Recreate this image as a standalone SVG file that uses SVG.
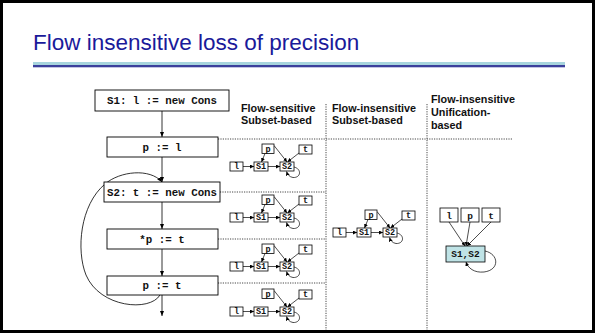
<svg xmlns="http://www.w3.org/2000/svg" width="595" height="333" viewBox="0 0 595 333">
<defs>
<style>
.frame{fill:#fff;stroke:#000;stroke-width:3}
.title{font-family:"Liberation Sans",Arial,sans-serif;font-size:22.5px;fill:#1a1a9a}
.hd{font-family:"Liberation Sans",Arial,sans-serif;font-size:10.8px;font-weight:bold;fill:#111}
.stm rect{fill:#fff;stroke:#000;stroke-width:0.9}
.stm text{font-family:"Liberation Mono","Courier New",monospace;font-size:10.8px;font-weight:bold;fill:#111;text-anchor:middle}
.n rect{fill:#fff;stroke:#000;stroke-width:0.8}
.n text{font-family:"Liberation Mono","Courier New",monospace;font-size:8.5px;font-weight:bold;fill:#111;text-anchor:middle}
.u rect{fill:#fff;stroke:#000;stroke-width:0.8}
.u text{font-family:"Liberation Mono","Courier New",monospace;font-size:9.5px;font-weight:bold;fill:#111;text-anchor:middle}
.dot{stroke:#333;stroke-width:0.9;stroke-dasharray:1.2 1.2;fill:none}
.ea{stroke:#000;stroke-width:0.7;fill:none;marker-end:url(#ah)}
.eb{stroke:#000;stroke-width:0.8;fill:none;marker-end:url(#ab)}
</style>
<marker id="ah" markerUnits="userSpaceOnUse" markerWidth="5" markerHeight="4" refX="4" refY="2" orient="auto"><path d="M0,0 L4,2 L0,4 z" fill="#000"/></marker>
<marker id="ab" markerUnits="userSpaceOnUse" markerWidth="6" markerHeight="5" refX="5" refY="2.5" orient="auto"><path d="M0,0.5 L5,2.5 L0,4.5 z" fill="#000"/></marker>
<g id="mini">
<line class="ea" x1="243" y1="4.5" x2="254" y2="4.5"/>
<line class="ea" x1="268" y1="4.5" x2="280" y2="4.5"/>
<line class="ea" x1="274" y1="-16.5" x2="287" y2="0"/>
<line class="ea" x1="299" y1="-9" x2="287.5" y2="0"/>
<path class="ea" d="M294,5 C302,7 301,16 293,15.5 C289.5,15 287.5,12.5 286.5,9.5"/>
<g class="n"><rect x="230" y="0" width="13" height="9"/><text x="236.5" y="7.3">l</text></g>
<g class="n"><rect x="254" y="0" width="14" height="9"/><text x="261" y="7.3">S1</text></g>
<g class="n"><rect x="280" y="0" width="14" height="9"/><text x="287" y="7.3">S2</text></g>
<g class="n"><rect x="262" y="-18" width="12" height="9.5"/><text x="268" y="-10.3">p</text></g>
<g class="n"><rect x="299" y="-17" width="13" height="9"/><text x="305.5" y="-9.8">t</text></g>
</g>
<line id="pS1" class="ea" x1="265" y1="-8.5" x2="261.5" y2="0"/>
</defs>

<rect class="frame" x="1.5" y="1.5" width="592" height="330"/>

<g id="title">
<text class="title" x="33" y="50">Flow insensitive loss of precision</text>
<rect x="33" y="62" width="532" height="3" fill="#a7d4dd"/>
<rect x="33" y="65" width="532" height="2.3" fill="#3b3f9c"/>
</g>

<g id="headers">
<text class="hd" x="241" y="112">Flow-sensitive</text>
<text class="hd" x="241" y="124">Subset-based</text>
<text class="hd" x="332" y="112">Flow-insensitive</text>
<text class="hd" x="332" y="124">Subset-based</text>
<text class="hd" x="431" y="103">Flow-insensitive</text>
<text class="hd" x="431" y="116">Unification-</text>
<text class="hd" x="431" y="129">based</text>
</g>

<g id="grid">
<line class="dot" x1="218" y1="139" x2="512" y2="139"/>
<line class="dot" x1="220" y1="192" x2="326" y2="192"/>
<line class="dot" x1="218" y1="239" x2="326" y2="239"/>
<line class="dot" x1="218" y1="283" x2="326" y2="283"/>
<line class="dot" x1="326" y1="104" x2="326" y2="330"/>
<line class="dot" x1="427" y1="104" x2="427" y2="330"/>
</g>

<g id="connectors">
<line class="eb" x1="162" y1="111" x2="162" y2="137"/>
<line class="eb" x1="162" y1="157" x2="162" y2="182"/>
<line class="eb" x1="162" y1="202" x2="162" y2="229"/>
<line class="eb" x1="162" y1="249" x2="162" y2="276"/>
<line class="eb" x1="162" y1="295" x2="162" y2="316"/>
<path class="eb" d="M160,295 C150,312 100,308 86,275 C76,250 80,205 105,184 C120,171 150,168 162,182"/>
</g>

<g id="s1" class="stm"><rect x="95" y="90" width="134" height="21"/><text x="162" y="104">S1: l := new Cons</text></g>
<g id="s2" class="stm"><rect x="107" y="137" width="111" height="20"/><text x="162" y="150.5">p := l</text></g>
<g id="s3" class="stm"><rect x="104" y="182" width="116" height="20"/><text x="162" y="195.5">S2: t := new Cons</text></g>
<g id="s4" class="stm"><rect x="107" y="229" width="111" height="20"/><text x="162" y="242.5">*p := t</text></g>
<g id="s5" class="stm"><rect x="107" y="276" width="111" height="19"/><text x="162" y="289">p := t</text></g>

<g id="fs1" transform="translate(0,162)"><use href="#mini"/><use href="#pS1"/></g>
<g id="fs2" transform="translate(0,213)"><use href="#mini"/><use href="#pS1"/></g>
<g id="fs3" transform="translate(0,262)"><use href="#mini"/><use href="#pS1"/></g>
<g id="fs4" transform="translate(0,307)"><use href="#mini"/></g>

<g id="fi" transform="translate(103,228)"><use href="#mini"/><use href="#pS1"/></g>

<g id="unif">
<line class="ea" x1="449" y1="222" x2="465" y2="246"/>
<line class="ea" x1="470" y1="222" x2="466" y2="246"/>
<line class="ea" x1="491" y1="222" x2="467" y2="246"/>
<path class="ea" d="M485,251 C499,254 500,270 484,272 C474,273 468,268 466,262"/>
<g class="u"><rect x="440" y="208" width="18" height="14"/><text x="449" y="218.5">l</text></g>
<g class="u"><rect x="461" y="208" width="18" height="14"/><text x="470" y="218.5">p</text></g>
<g class="u"><rect x="482" y="208" width="18" height="14"/><text x="491" y="218.5">t</text></g>
<g class="u"><rect x="446" y="246" width="39" height="16" style="fill:#bfe3e6"/><text x="465.5" y="257.3">S1,S2</text></g>
</g>
</svg>
